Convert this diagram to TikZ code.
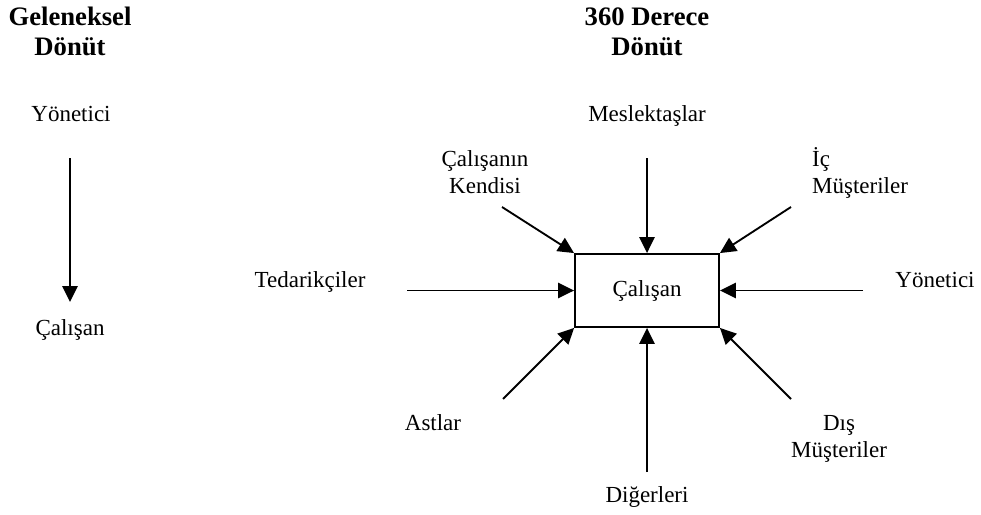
\documentclass[tikz,border=0pt]{standalone}
\usepackage{fontspec}
\setmainfont{Liberation Serif}
\usetikzlibrary{arrows.meta,positioning}
\tikzstyle{source}=[align=center,anchor=base,inner sep=0pt,font=\fontsize{17.25}{19.8}\selectfont]
\tikzstyle{header}=[align=center,anchor=base,inner sep=0pt,font=\fontsize{20}{21.75}\selectfont\bfseries]
\tikzstyle{person}=[draw,line width=1.4pt,minimum width=108pt,minimum height=54.75pt,inner sep=0pt,font=\fontsize{17.25}{19.8}\selectfont]
\tikzstyle{feed}=[line width=1.4pt,-{Triangle[length=12pt,width=11.5pt]}]

\begin{document}
\begin{tikzpicture}[x=0.75pt,y=-0.75pt]
  \useasboundingbox (0,0) rectangle (981,514);
  % traditional feedback
  \node [header] (trad) at (70,55) {Geleneksel\\Dönüt};
  \node [source] (boss1) at (71,121) {Yönetici};
  \node [source] (emp1) at (70,335) {Çalışan};
  \coordinate (t1) at (70,158);
  \coordinate (t2) at (70,302);
  \draw [feed] (t1) -- (t2);

  % 360 degree feedback
  \node [header] (full) at (647,55) {360 Derece\\Dönüt};
  \node [person] (emp) at (647,290.5) {Çalışan};
  \node [source] (peers) at (647,121) {Meslektaşlar};
  \node [source] (self) at (485,193) {Çalışanın\\Kendisi};
  \node [source,align=left] (inner) at (860,193) {İç\\Müşteriler};
  \node [source] (supp) at (310,287) {Tedarikçiler};
  \node [source] (boss) at (935,287) {Yönetici};
  \node [source] (subs) at (433,430) {Astlar};
  \node [source] (outer) at (839,457) {Dış\\Müşteriler};
  \node [source] (others) at (647,502) {Diğerleri};

  \coordinate (c-peers) at (647,158);
  \coordinate (c-self) at (502,207);
  \coordinate (c-inner) at (791,207);
  \coordinate (c-supp) at (407,290.5);
  \coordinate (c-boss) at (863,290.5);
  \coordinate (c-subs) at (503,399);
  \coordinate (c-outer) at (791,399);
  \coordinate (c-others) at (647,472);

  \draw [feed] (c-peers) -- (emp.north);
  \draw [feed] (c-self) -- (emp.north west);
  \draw [feed] (c-inner) -- (emp.north east);
  \draw [feed] (c-supp) -- (emp.west);
  \draw [feed] (c-boss) -- (emp.east);
  \draw [feed] (c-subs) -- (emp.south west);
  \draw [feed] (c-outer) -- (emp.south east);
  \draw [feed] (c-others) -- (emp.south);
\end{tikzpicture}
\end{document}
